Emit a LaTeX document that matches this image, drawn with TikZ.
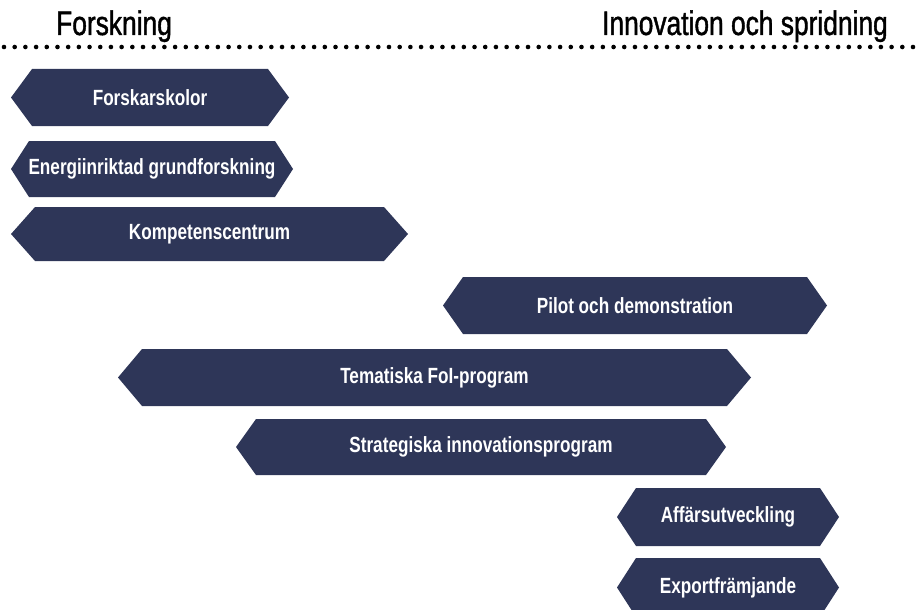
\documentclass[tikz,border=0pt]{standalone}
\usepackage{fontspec}
\newfontfamily\boxfont[FakeStretch=0.78]{Liberation Sans Bold}
\newfontfamily\headfont[FakeStretch=0.775,FakeBold=1.2]{Liberation Sans}
\definecolor{boxfill}{HTML}{2E3658}
\tikzset{
  boxtext/.style={text=white, font=\boxfont\fontsize{22}{24}\selectfont, inner sep=0pt},
  headtext/.style={text=black, font=\headfont\fontsize{34}{36}\selectfont, inner sep=0pt},
  dotline/.style={line width=4.6pt, line cap=round, dash pattern=on 0pt off 10.694pt}
}
\newcommand\hexbox[7]{%
  \fill[boxfill] (#2,{(#4+#5)/2}) -- (#2+#6,#4) -- (#3-#6,#4) -- (#3,{(#4+#5)/2}) -- (#3-#6,#5) -- (#2+#6,#5) -- cycle;
  \node[boxtext] (#1) at ({(#2+#3)/2},{(#4+#5)/2}) {#7};}
\begin{document}
\begin{tikzpicture}[x=1pt,y=-1pt]
\useasboundingbox (0,0) rectangle (918,610);
\begin{scope}
\clip (0,0) rectangle (918,610);
\node[headtext, anchor=base west] (h1) at (56,35) {Forskning};
\node[headtext, anchor=base east] (h2) at (888,35) {Innovation och spridning};
\coordinate (d1) at (4,47);
\coordinate (d2) at (913,47);
\draw[dotline] (d1) -- (d2);
\hexbox{b1}{11}{289}{69}{126}{21}{Forskarskolor}
\hexbox{b2}{11}{293}{141}{197}{18}{Energiinriktad grundforskning}
\hexbox{b3}{11}{408}{207}{261}{24}{Kompetenscentrum}
\hexbox{b4}{443}{827}{277}{334}{20}{Pilot och demonstration}
\hexbox{b5}{118}{751}{349}{406}{24}{Tematiska FoI-program}
\hexbox{b6}{236}{726}{419}{475}{20}{Strategiska innovationsprogram}
\hexbox{b7}{617}{839}{488}{546}{19}{Affärsutveckling}
\hexbox{b8}{617}{839}{558}{617}{19}{Exportfrämjande}
\end{scope}
\end{tikzpicture}
\end{document}
